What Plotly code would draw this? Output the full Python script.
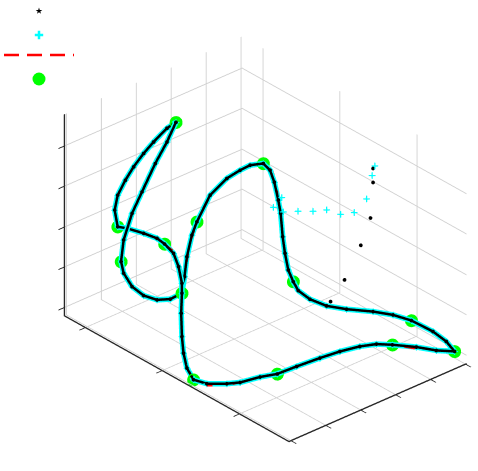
import plotly.graph_objects as go

# Axis units are arbitrary; the original has no tick labels.
X_RANGE = [0, 225]
Y_RANGE = [0, 178]
Z_RANGE = [0, 202]
X_TICKS = [21, 98, 175.5]
Y_TICKS = [2, 37, 72, 107, 142, 177]
Z_TICKS = [8.4, 49, 89, 130, 170.3]

# Estimated trajectory (black stars and cyan crosses follow it).
curve_x = [30, 22, 14.9, 7, 6, 5.8, 7.4, 11.1, 19.1, 24.8, 37.1, 48, 54, 60.3, 65.9, 71, 74, 80.8, 92.5,
           101.8, 112.3, 124.9, 138.8, 151.6, 158.2, 163.5, 168, 169, 170.8, 173, 176.7, 181.7, 187.4,
           200.2, 212.4, 223.4, 215.8, 205.9, 189.4, 177.7, 167.6, 153.5, 143.4, 133.4, 127.6, 122.4,
           118.5, 114.3, 111.7, 107.4, 106.1, 103.3, 99.4, 94.8, 85.7, 79.3, 71.7, 63.1, 56, 55.1, 56.6,
           61.5, 67, 64.8, 60.7, 56.5, 50.4, 45.3, 42.6, 40, 37, 37.8, 37.2, 35.8, 30]
curve_y = [81.7, 80.7, 74.4, 72.3, 63.3, 55.2, 45.9, 39.2, 34.2, 37.9, 42.2, 44.7, 46.3, 49, 48.4, 46.7,
           43.7, 36.2, 25.2, 17.5, 10.4, 4.4, 3.9, 11.1, 17.8, 32.5, 45.3, 63.7, 85.2, 103, 119.3, 131,
           141.3, 152.5, 160.3, 167.6, 166.9, 163.4, 158.3, 151.6, 141.7, 129.2, 119.3, 112.6, 106.7,
           106.9, 105.8, 106.7, 107, 109.3, 108.2, 107, 106.6, 104.5, 100.3, 96.7, 91, 82.9, 76.7, 72.6,
           66.1, 58.8, 50.7, 41.2, 32, 22.8, 17.3, 14, 14.1, 19.3, 30.7, 39.9, 53.8, 66.9, 81.7]
curve_z = [175, 165, 150, 135, 125, 115, 105, 95, 85, 85, 85, 85, 82, 75, 65, 52, 45, 32, 20, 12, 6, 4, 8,
           12, 14, 16, 16, 16, 16, 16, 16, 16, 14, 14, 14, 16, 22, 28, 32, 34, 36, 36, 38, 42, 50, 56, 66,
           80, 95, 115, 128, 145, 155, 160, 155, 148, 138, 120, 92, 80, 62, 48, 38, 35, 36, 42, 50, 62, 72,
           90, 110, 128, 150, 165, 175]

# True trajectory (red dashes); it parts from the estimate in a few bends.
true_x = curve_x
true_y = [81.7, 80.7, 74.4, 72.3, 63.3, 55.2, 45.9, 39.2, 34.2, 37.9, 42.2, 44.7, 46.3, 51, 50.4, 48.7,
          43.7, 36.2, 25.2, 17.5, 10.4, 4.4, 3.9, 11.1, 17.8, 32.5, 45.3, 63.7, 85.2, 103, 119.3, 131,
          141.3, 152.5, 160.3, 167.6, 166.9, 163.4, 158.3, 151.6, 141.7, 129.2, 119.3, 112.6, 106.7,
          106.9, 105.8, 106.7, 107, 109.3, 108.2, 109, 108.6, 104.5, 100.3, 96.7, 92.5, 84.4, 77.7, 73.6,
          67.1, 58.8, 50.7, 41.2, 32, 22.8, 17.3, 14, 14.1, 19.3, 30.7, 39.9, 53.8, 66.9, 81.7]
true_z = [175, 165, 150, 135, 125, 115, 105, 95, 85, 85, 85, 85, 82, 75, 65, 52, 45, 32, 20, 12, 6, 2, 6,
          10, 14, 16, 16, 16, 16, 16, 16, 16, 14, 12, 12, 14, 22, 28, 32, 34, 36, 36, 38, 42, 50, 56, 66,
          80, 95, 115, 128, 145, 155, 160, 155, 148, 136, 118, 92, 80, 62, 48, 38, 35, 36, 42, 50, 62, 72,
          90, 110, 128, 150, 165, 175]

# Early, not yet converged samples of each estimate.
black_start_x = [158.1, 157.1, 156.6, 154.7, 149.2, 144.8]
black_start_y = [151.2, 152.2, 150.1, 142.3, 131.5, 121.9]
black_start_z = [170, 155, 120, 95, 62, 42]
cyan_start_x = [158.2, 156.6, 155.6, 153.8, 149.6, 144.1, 139.4, 132.8, 122, 118, 111.9]
cyan_start_y = [152.8, 151.7, 147.1, 136.5, 127.1, 118.6, 109.6, 101.2, 97.3, 91.3, 105.8]
cyan_start_z = [172, 162, 140, 130, 130, 135, 135, 135, 130, 135, 135]

# Green knots.
knot_x = [30, 19.1, 54, 74, 124.9, 168, 187.4, 223.4, 189.4, 122.4, 94.8, 56, 42.6]
knot_y = [81.7, 34.2, 46.3, 43.7, 4.4, 45.3, 141.3, 167.6, 158.3, 106.9, 104.5, 76.7, 14.1]
knot_z = [175, 85, 82, 45, 4, 16, 14, 16, 32, 56, 160, 92, 72]

# Legend keys sit on a hidden pixel-sized axis pair.
key_x = [39]
key_star_y = [11]
key_plus_y = [35]
key_line_x = [4, 74]
key_line_y = [55, 55]
key_circle_y = [79]

AXIS_COLOR = "#262626"
GRID_COLOR = "#d0d0d0"


def axis_style(rng, ticks):
    return dict(
        range=rng,
        autorange=False,
        tickmode="array",
        tickvals=ticks,
        showticklabels=False,
        ticks="outside",
        ticklen=8,
        tickwidth=2,
        tickcolor=AXIS_COLOR,
        showline=True,
        linecolor=AXIS_COLOR,
        linewidth=3,
        showgrid=True,
        gridcolor=GRID_COLOR,
        gridwidth=2,
        zeroline=False,
        showbackground=False,
        showspikes=False,
        title=dict(text=""),
    )


def toward_viewer(xs, ys, zs, k):
    # WebGL sorts by depth, not trace order. This shift runs along the line of
    # sight, so it sets the stacking without moving anything on screen.
    return [v + k for v in xs], [v - k for v in ys], [v + k for v in zs]


fig = go.Figure()

gx, gy, gz = toward_viewer(knot_x, knot_y, knot_z, -1.5)
fig.add_trace(go.Scatter3d(x=gx, y=gy, z=gz, mode="markers",
                           marker=dict(size=7.5, color="#00ff00")))

cx, cy, cz = toward_viewer(curve_x, curve_y, curve_z, 0)
cross = dict(size=3.5, color="#00ffff", symbol="cross", line=dict(color="#00ffff", width=1))
fig.add_trace(go.Scatter3d(x=cx, y=cy, z=cz, mode="lines+markers",
                           line=dict(color="#00ffff", width=11), marker=cross))
fig.add_trace(go.Scatter3d(x=cyan_start_x, y=cyan_start_y, z=cyan_start_z, mode="markers", marker=cross))

rx, ry, rz = toward_viewer(true_x, true_y, true_z, 0.5)
fig.add_trace(go.Scatter3d(x=rx, y=ry, z=rz, mode="lines",
                           line=dict(color="#ff0000", width=3, dash="dash")))

bx, by, bz = toward_viewer(curve_x, curve_y, curve_z, 1)
fig.add_trace(go.Scatter3d(x=bx, y=by, z=bz, mode="lines+markers",
                           line=dict(color="#000000", width=5),
                           marker=dict(size=2.2, color="#000000")))
fig.add_trace(go.Scatter3d(x=black_start_x, y=black_start_y, z=black_start_z, mode="markers",
                           marker=dict(size=2.2, color="#000000")))

fig.add_trace(go.Scatter(x=key_x, y=key_star_y, mode="markers",
                         marker=dict(symbol="star", size=5, color="#000000")))
fig.add_trace(go.Scatter(x=key_x, y=key_plus_y, mode="markers",
                         marker=dict(symbol="cross-thin", size=6, color="#00ffff",
                                     line=dict(width=2.5, color="#00ffff"))))
fig.add_trace(go.Scatter(x=key_line_x, y=key_line_y, mode="lines",
                         line=dict(color="#ff0000", width=2.5, dash="15px,8px")))
fig.add_trace(go.Scatter(x=key_x, y=key_circle_y, mode="markers",
                         marker=dict(symbol="circle", size=13, color="#00ff00")))

fig.update_layout(
    template="none",
    width=478,
    height=471,
    margin=dict(l=0, r=0, t=0, b=0),
    paper_bgcolor="#ffffff",
    plot_bgcolor="rgba(0,0,0,0)",
    showlegend=False,
    xaxis=dict(range=[0, 478], visible=False, domain=[0, 1]),
    yaxis=dict(range=[471, 0], visible=False, domain=[0, 1]),
    scene=dict(
        domain=dict(x=[0.11, 1.0], y=[0.0, 0.985]),
        xaxis=axis_style(X_RANGE, X_TICKS),
        yaxis=axis_style(Y_RANGE, Y_TICKS),
        zaxis=axis_style(Z_RANGE, Z_TICKS),
        aspectmode="manual",
        aspectratio=dict(x=1.46, y=1.022, z=1.0),
        camera=dict(
            projection=dict(type="orthographic"),
            eye=dict(x=1.3, y=-1.15, z=0.99),
            center=dict(x=0, y=0, z=0),
            up=dict(x=0, y=0, z=1),
        ),
    ),
)

# Page margin would otherwise push the figure 8px off the window.
fig.write_html("out.html", config={"displayModeBar": False},
               post_script="document.body.style.margin = '0';")
